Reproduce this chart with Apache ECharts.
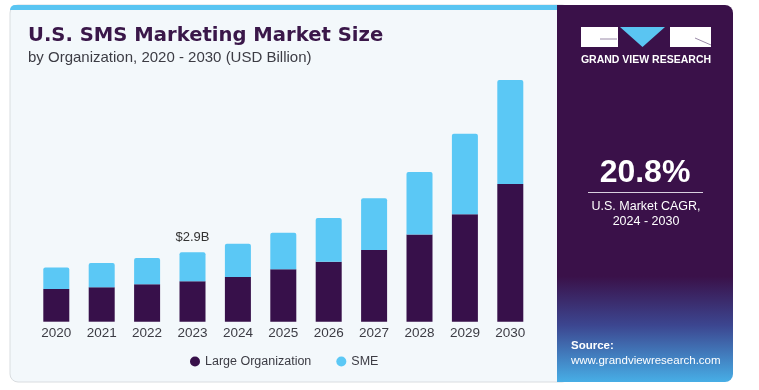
<!DOCTYPE html>
<html><head><meta charset="utf-8">
<script src="https://cdn.jsdelivr.net/npm/echarts@6/dist/echarts.min.js"></script>
<style>html,body{margin:0;padding:0;background:#fff}#c{width:759px;height:390px}</style>
</head><body><div id="c"></div>
<script>
const years = ['2020','2021','2022','2023','2024','2025','2026','2027','2028','2029','2030'];
const largeOrg = [1.37,1.44,1.56,1.69,1.87,2.19,2.51,3.00,3.64,4.49,5.75];
const sme = [0.89,1.01,1.10,1.21,1.39,1.53,1.82,2.16,2.62,3.37,4.35];
const highlightLabel = '$2.9B';
const highlightIndex = 3;

const purple = '#37104a';
const blue = '#5bc8f5';
const font = '"Liberation Sans", Arial, sans-serif';
const wide = '"DejaVu Sans", "Liberation Sans", sans-serif';

const chart = echarts.init(document.getElementById('c'));
chart.setOption({
  backgroundColor: '#ffffff',
  animation: false,
  textStyle: { fontFamily: font },
  graphic: [
    { type: 'rect', z: -10, shape: { x: 10, y: 5, width: 560, height: 377, r: 8 },
      style: { fill: '#f3f8fb', stroke: '#d9dde0', lineWidth: 1 } },
    { type: 'rect', z: -9, shape: { x: 10, y: 5, width: 560, height: 5, r: [8, 0, 0, 0] },
      style: { fill: '#5ac5f2' } },
    { type: 'rect', z: -8, shape: { x: 557, y: 5, width: 176, height: 377, r: [0, 8, 8, 0] },
      style: { fill: new echarts.graphic.LinearGradient(0, 0, 0, 1, [
        { offset: 0, color: '#3a1149' },
        { offset: 0.72, color: '#3a1149' },
        { offset: 0.85, color: '#3c4690' },
        { offset: 1, color: '#47aee6' }
      ]) } },
    // logo
    { type: 'rect', shape: { x: 581, y: 27, width: 37, height: 20 }, style: { fill: '#ffffff' } },
    { type: 'polyline', shape: { points: [[600, 39], [617, 39]] }, style: { stroke: '#9a8aa8', lineWidth: 1 } },
    { type: 'polygon', shape: { points: [[620, 27], [665, 27], [642.5, 47]] }, style: { fill: '#5ac5f2' } },
    { type: 'rect', shape: { x: 670, y: 27, width: 41, height: 20 }, style: { fill: '#ffffff' } },
    { type: 'polyline', shape: { points: [[695, 38], [711, 45]] }, style: { stroke: '#9a8aa8', lineWidth: 1 } },
    { type: 'text', style: { x: 646, y: 60, text: 'GRAND VIEW RESEARCH', fill: '#ffffff',
      font: 'bold 10.5px ' + font, textAlign: 'center', textVerticalAlign: 'middle' } },
    // CAGR
    { type: 'text', style: { x: 645, y: 173, text: '20.8%', fill: '#ffffff',
      font: 'bold 32px ' + font, textAlign: 'center', textVerticalAlign: 'middle' } },
    { type: 'rect', shape: { x: 588, y: 192, width: 115, height: 1 }, style: { fill: '#d8d0de' } },
    { type: 'text', style: { x: 646, y: 207, text: 'U.S. Market CAGR,', fill: '#ffffff',
      font: '12.5px ' + font, textAlign: 'center', textVerticalAlign: 'middle' } },
    { type: 'text', style: { x: 646, y: 222, text: '2024 - 2030', fill: '#ffffff',
      font: '12.5px ' + font, textAlign: 'center', textVerticalAlign: 'middle' } },
    // source
    { type: 'text', style: { x: 571, y: 346, text: 'Source:', fill: '#ffffff',
      font: 'bold 11.5px ' + font, textVerticalAlign: 'middle' } },
    { type: 'text', style: { x: 571, y: 361, text: 'www.grandviewresearch.com', fill: '#ffffff',
      font: '11.5px ' + font, textVerticalAlign: 'middle' } },
    // titles
    { type: 'text', style: { x: 28, y: 36, text: 'U.S. SMS Marketing Market Size', fill: '#3a1749',
      font: 'bold 19.6px ' + wide, textVerticalAlign: 'middle' } },
    { type: 'text', style: { x: 28, y: 58, text: 'by Organization, 2020 - 2030 (USD Billion)', fill: '#3c3c44',
      font: '15px ' + font, textVerticalAlign: 'middle' } }
  ],
  legend: {
    left: 185, top: 350, itemWidth: 10, itemHeight: 10, itemGap: 25, icon: 'circle',
    textStyle: { fontSize: 12.5, color: '#3c3c44', fontFamily: font },
    data: ['Large Organization', 'SME']
  },
  grid: { left: 33.6, right: 759 - 533, top: 58.5, bottom: 68.3 },
  xAxis: {
    type: 'category', data: years,
    axisLine: { show: false }, axisTick: { show: false },
    axisLabel: { fontSize: 13.5, color: '#3c3c44', margin: 5, fontFamily: font }
  },
  yAxis: { type: 'value', min: 0, max: 11, show: false, splitLine: { show: false } },
  series: [
    { name: 'Large Organization', type: 'bar', stack: 's', data: largeOrg, barWidth: 26,
      itemStyle: { color: purple } },
    { name: 'SME', type: 'bar', stack: 's', barWidth: 26,
      data: sme.map((v, i) => i === highlightIndex
        ? { value: v, label: { show: true, position: 'top', formatter: highlightLabel,
            fontSize: 13, color: '#333333', distance: 8, fontFamily: font } }
        : v),
      itemStyle: { color: blue, borderRadius: [2, 2, 0, 0] } }
  ]
});
</script></body></html>
